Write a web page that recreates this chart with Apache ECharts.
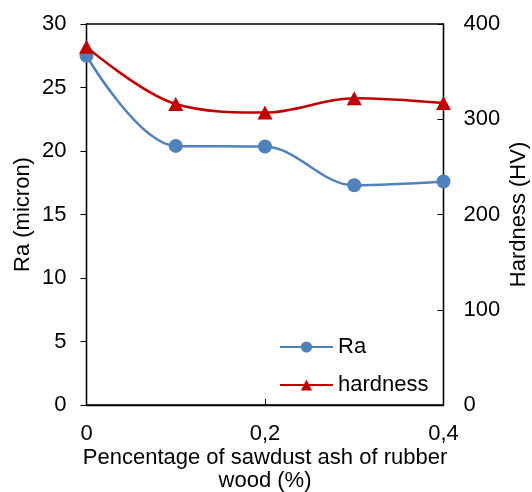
<!DOCTYPE html>
<html><head><meta charset="utf-8">
<script src="https://cdn.jsdelivr.net/npm/echarts@6/dist/echarts.min.js"></script>
<style>html,body{margin:0;padding:0;background:#fff}#c{width:532px;height:492px}</style>
</head><body><div id="c"></div>
<script>
const xValues = [0, 0.1, 0.2, 0.3, 0.4];
const raValues = [27.5, 20.4, 20.35, 17.3, 17.6];
const hardnessValues = [376, 316, 307, 322, 317];
const leftTicks = [0, 5, 10, 15, 20, 25, 30];
const rightTicks = [0, 100, 200, 300, 400];

const font = 'Liberation Sans, Arial, sans-serif';
const chart = echarts.init(document.getElementById('c'));
chart.setOption({
  animation: false,
  backgroundColor: '#fff',
  grid: { left: 86.5, right: 88.5, top: 24, bottom: 87, containLabel: false, outerBoundsMode: 'none',
    show: true, borderColor: '#000', borderWidth: 1.3 },
  legend: {
    left: 274, top: 331, orient: 'vertical', itemGap: 16,
    itemWidth: 53, itemHeight: 14,
    textStyle: { fontFamily: font, fontSize: 22, color: '#000' },
    data: ['Ra', 'hardness']
  },
  xAxis: {
    type: 'value', min: 0, max: 0.4, interval: 0.2,
    name: 'Pencentage of sawdust ash of rubber\nwood (%)',
    nameLocation: 'middle', nameGap: 41, nameMoveOverlap: false,
    nameTextStyle: { fontFamily: font, fontSize: 22, color: '#000', lineHeight: 23 },
    axisLine: { lineStyle: { color: '#000', width: 1.3 } },
    axisTick: { inside: true, length: 6, lineStyle: { color: '#000' } },
    splitLine: { show: false },
    axisLabel: { fontFamily: font, fontSize: 22, color: '#000', margin: 18,
      formatter: v => String(Math.round(v * 10) / 10).replace('.', ',') }
  },
  yAxis: [{
    type: 'value', min: 0, max: 30, interval: 5, position: 'left',
    name: 'Ra (micron)', nameLocation: 'middle', nameGap: 53, nameRotate: 90, nameMoveOverlap: false,
    nameTextStyle: { fontFamily: font, fontSize: 22, color: '#000' },
    axisLine: { show: true, lineStyle: { color: '#000', width: 1.3 } },
    axisTick: { show: true, length: 6, lineStyle: { color: '#000' } },
    splitLine: { show: false },
    axisLabel: { fontFamily: font, fontSize: 22, color: '#000', margin: 20 }
  }, {
    type: 'value', min: 0, max: 400, interval: 100, position: 'right',
    name: 'Hardness (HV)', nameLocation: 'middle', nameGap: 64, nameRotate: 90, nameMoveOverlap: false,
    nameTextStyle: { fontFamily: font, fontSize: 22, color: '#000' },
    axisLine: { show: true, lineStyle: { color: '#000', width: 1.3 } },
    axisTick: { show: true, inside: true, length: 6, lineStyle: { color: '#000' } },
    splitLine: { show: false },
    axisLabel: { fontFamily: font, fontSize: 22, color: '#000', margin: 20 }
  }],
  series: [{
    name: 'Ra', type: 'line', yAxisIndex: 0, smooth: 0.35,
    data: xValues.map((x, i) => [x, raValues[i]]),
    symbol: 'circle', symbolSize: 14,
    itemStyle: { color: '#4F81BD' }, lineStyle: { color: '#4F81BD', width: 2.5 }, z: 3
  }, {
    name: 'hardness', type: 'line', yAxisIndex: 1, smooth: 0.35,
    data: xValues.map((x, i) => [x, hardnessValues[i]]),
    symbol: 'triangle', symbolSize: [15, 14],
    itemStyle: { color: '#C00000' }, lineStyle: { color: '#C00000', width: 2.5 }, z: 4
  }]
});
</script></body></html>
